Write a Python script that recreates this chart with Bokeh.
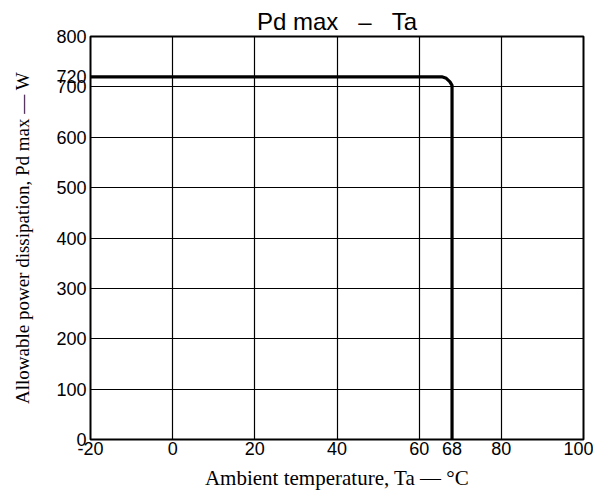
from bokeh.plotting import figure
from bokeh.models import FixedTicker, Range1d
from bokeh.embed import file_html
from bokeh.resources import INLINE

# Data
ta = [-20, 65.5, 66.6, 67.5, 68, 68]
pd_max = [720, 720, 717, 710, 703, 0]

x_ticks = [-20, 0, 20, 40, 60, 68, 80, 100]
y_ticks = [0, 100, 200, 300, 400, 500, 600, 700, 720, 800]
x_grid = [0, 20, 40, 60, 80]
y_grid = [100, 200, 300, 400, 500, 600, 700]

title_text = "Pd max\u00a0\u00a0\u00a0\u2013\u00a0\u00a0\u00a0Ta"
x_label = "Ambient temperature, Ta \u2014 \u00b0C"
y_label = "Allowable power dissipation, Pd max \u2014 W"

p = figure(
    frame_width=493, frame_height=403,
    min_border_left=90, min_border_right=10,
    min_border_top=36, min_border_bottom=10,
    output_backend="svg", toolbar_location=None,
    x_range=Range1d(-20, 100), y_range=Range1d(0, 800),
    title=title_text,
)

p.title.align = "center"
p.title.text_font = "Liberation Sans"
p.title.text_font_size = "24px"
p.title.text_font_style = "normal"
p.title.text_color = "black"
p.title.standoff = 4
p.title.offset = 0

p.background_fill_color = "white"
p.border_fill_color = "white"
p.outline_line_color = "black"
p.outline_line_width = 2

tick_font = "Liberation Sans"
label_font = "Liberation Serif"

p.xaxis.ticker = FixedTicker(ticks=x_ticks)
p.yaxis.ticker = FixedTicker(ticks=y_ticks)
p.xaxis.major_label_overrides = {-20: "-20"}
p.xgrid.ticker = FixedTicker(ticks=x_grid)
p.ygrid.ticker = FixedTicker(ticks=y_grid)

for g in (p.xgrid, p.ygrid):
    g.grid_line_color = "black"
    g.grid_line_width = 1.2
    g.grid_line_alpha = 1.0

for ax in (p.xaxis, p.yaxis):
    ax.axis_line_color = None
    ax.major_tick_line_color = None
    ax.minor_tick_line_color = None
    ax.major_tick_in = 0
    ax.major_tick_out = 0
    ax.major_label_text_font = tick_font
    ax.major_label_text_font_size = "18px"
    ax.major_label_text_color = "black"
    ax.axis_label_text_font = label_font
    ax.axis_label_text_font_style = "normal"
    ax.axis_label_text_color = "black"

p.xaxis.axis_label = x_label
p.yaxis.axis_label = y_label
p.xaxis.axis_label_text_font_size = "21px"
p.yaxis.axis_label_text_font_size = "19px"
p.xaxis.major_label_standoff = 2
p.yaxis.major_label_standoff = 4
p.xaxis.axis_label_standoff = 8
p.yaxis.axis_label_standoff = 20

p.line(ta, pd_max, line_color="black", line_width=3.2, line_join="round")

open("out.html", "w").write(file_html(p, INLINE))
